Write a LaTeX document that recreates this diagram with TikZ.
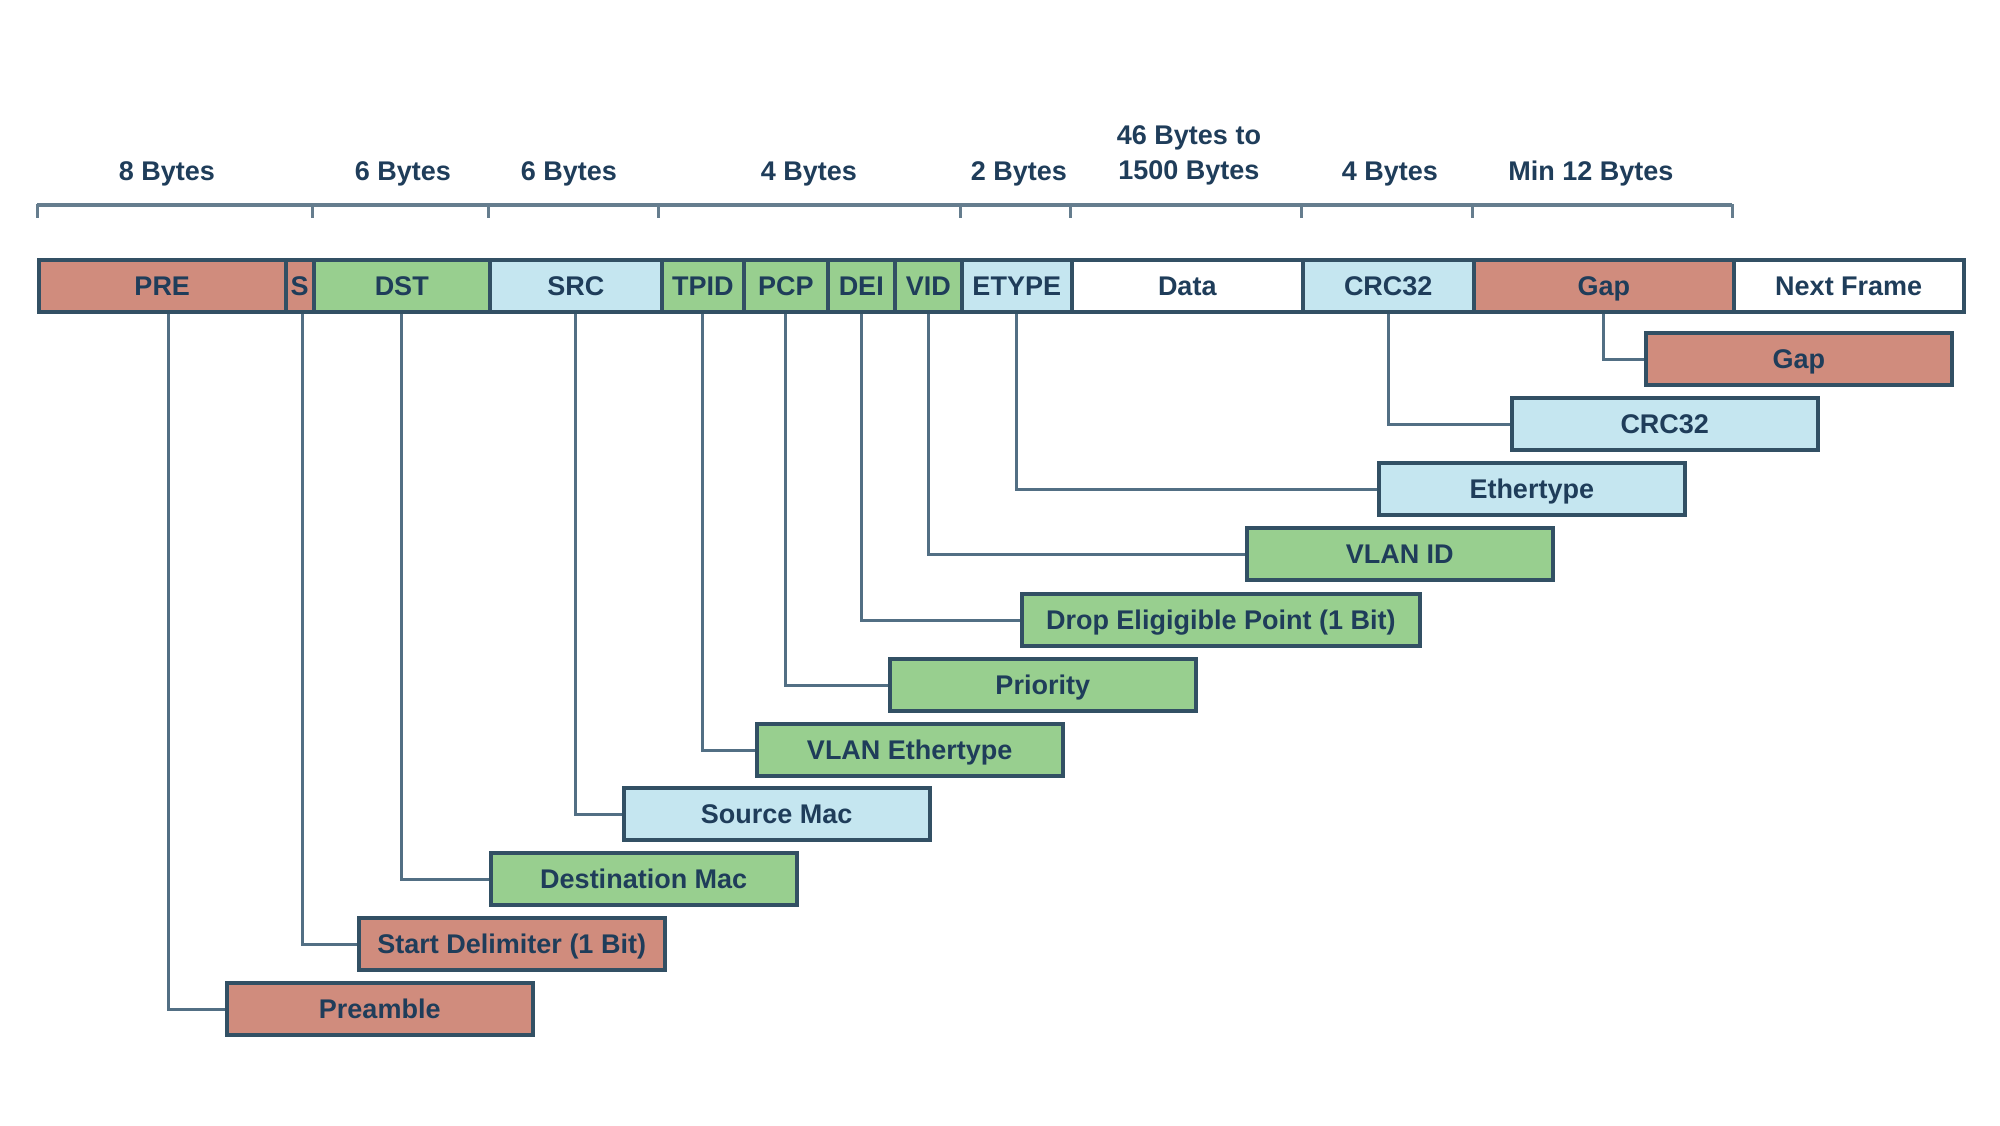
\documentclass[tikz,border=0pt]{standalone}
\usepackage{fontspec}
\setmainfont{Liberation Sans}
\definecolor{salmon}{HTML}{D08C7D}
\definecolor{leaf}{HTML}{98CF8F}
\definecolor{sky}{HTML}{C5E6F0}
\definecolor{edge}{HTML}{325064}
\definecolor{wire}{HTML}{526F84}
\definecolor{ink}{HTML}{1F3D5A}
\definecolor{rule}{HTML}{657D8E}
\tikzset{
  cell/.style={draw=edge, line width=3.5pt, minimum height=52pt, inner xsep=0pt, inner ysep=0pt, text height=20pt, text depth=1pt, anchor=west, text=ink, font=\bfseries\fontsize{27}{30}\selectfont},
  fieldbox/.style={cell, minimum width=306pt},
  conn/.style={draw=wire, line width=3pt},
  ruler/.style={draw=rule, line width=4pt},
  tick/.style={draw=rule, line width=3pt},
  bytes/.style={text=ink, font=\bfseries\fontsize{27}{30}\selectfont, align=center, inner sep=0pt}
}
\begin{document}
\begin{tikzpicture}[x=1pt,y=-1pt]
\useasboundingbox[fill=white] (0,0) rectangle (2000,1125);

% ruler
\coordinate (r0) at (37,205);
\coordinate (r9) at (1732,205);
\draw[ruler] (r0) -- (r9);
\foreach \t in {37,312,488,658,960,1070,1301,1472,1732}
  \draw[tick] (\t,204) -- (\t,218);

% byte labels
\node[bytes] (b1) at (167,174) {8 Bytes};
\node[bytes] (b2) at (403,174) {6 Bytes};
\node[bytes] (b3) at (569,174) {6 Bytes};
\node[bytes] (b4) at (809,174) {4 Bytes};
\node[bytes] (b5) at (1019,174) {2 Bytes};
\node[bytes] (b6) at (1189,155) {46 Bytes to\\[5pt]1500 Bytes};
\node[bytes] (b7) at (1390,174) {4 Bytes};
\node[bytes] (b8) at (1591,174) {Min 12 Bytes};

% frame bar
\node[cell, fill=salmon, minimum width=247pt] (pre) at (37,286) {PRE};
\node[cell, fill=salmon, minimum width=28pt] (sfd) at (284,286) {S};
\node[cell, fill=leaf, minimum width=176pt] (dst) at (312,286) {DST};
\node[cell, fill=sky, minimum width=172pt] (src) at (488,286) {SRC};
\node[cell, fill=leaf, minimum width=82pt] (tpid) at (660,286) {TPID};
\node[cell, fill=leaf, minimum width=84pt] (pcp) at (742,286) {PCP};
\node[cell, fill=leaf, minimum width=67pt] (dei) at (826,286) {DEI};
\node[cell, fill=leaf, minimum width=67pt] (vid) at (893,286) {VID};
\node[cell, fill=sky, minimum width=110pt] (etype) at (960,286) {ETYPE};
\node[cell, fill=white, minimum width=231pt] (data) at (1070,286) {Data};
\node[cell, fill=sky, minimum width=171pt] (crc) at (1301,286) {CRC32};
\node[cell, fill=salmon, minimum width=260pt] (gap) at (1472,286) {Gap};
\node[cell, fill=white, minimum width=230pt] (next) at (1732,286) {Next Frame};

% description boxes
\node[fieldbox, fill=salmon] (gapd) at (1644,359) {Gap};
\node[fieldbox, fill=sky] (crcd) at (1510,424) {CRC32};
\node[fieldbox, fill=sky] (etyped) at (1377,489) {Ethertype};
\node[fieldbox, fill=leaf] (vidd) at (1245,554) {VLAN ID};
\node[cell, fill=leaf, minimum width=398pt] (deid) at (1020,620) {Drop Eligigible Point (1 Bit)};
\node[fieldbox, fill=leaf] (pcpd) at (888,685) {Priority};
\node[fieldbox, fill=leaf] (tpidd) at (755,750) {VLAN Ethertype};
\node[fieldbox, fill=sky] (srcd) at (622,814) {Source Mac};
\node[fieldbox, fill=leaf] (dstd) at (489,879) {Destination Mac};
\node[fieldbox, fill=salmon] (sfdd) at (357,944) {Start Delimiter (1 Bit)};
\node[fieldbox, fill=salmon] (pred) at (225,1009) {Preamble};

% connectors
\draw[conn] ([xshift=6pt]pre.south) |- (pred.west);
\draw[conn] ([xshift=3pt]sfd.south) |- (sfdd.west);
\draw[conn] (dst.south) |- (dstd.west);
\draw[conn] (src.south) |- (srcd.west);
\draw[conn] (tpid.south) |- (tpidd.west);
\draw[conn] (pcp.south) |- (pcpd.west);
\draw[conn] (dei.south) |- (deid.west);
\draw[conn] (vid.south) |- (vidd.west);
\draw[conn] (etype.south) |- (etyped.west);
\draw[conn] (crc.south) |- (crcd.west);
\draw[conn] (gap.south) |- (gapd.west);
\end{tikzpicture}
\end{document}
